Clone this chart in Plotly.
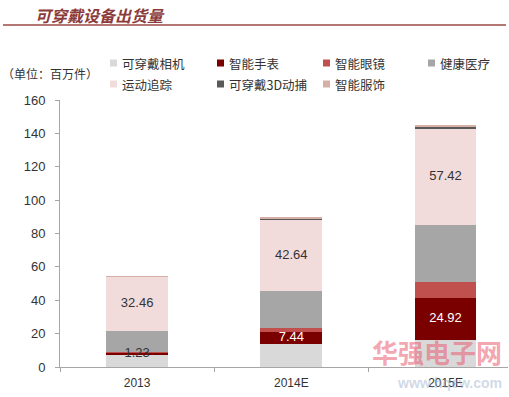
import plotly.graph_objects as go

categories = ["2013", "2014E", "2015E"]
series_names = ["可穿戴相机", "智能手表", "智能眼镜", "健康医疗", "运动追踪", "可穿戴3D动捕", "智能服饰"]
camera = [7.2, 13.8, 16.2]
watch = [1.23, 7.44, 24.92]
glasses = [0.3, 2.0, 10.0]
health = [12.8, 22.3, 34.0]
sport = [32.46, 42.64, 57.42]
capture3d = [0.2, 0.8, 1.5]
clothing = [0.1, 0.6, 1.0]
watch_labels = ["1.23", "7.44", "24.92"]
sport_labels = ["32.46", "42.64", "57.42"]
y_ticks = [0, 20, 40, 60, 80, 100, 120, 140, 160]

colors = ["#d9d9d9", "#7a0000", "#c0504d", "#a6a6a6", "#f2dcdb", "#595959", "#d6b0a6"]
values = [camera, watch, glasses, health, sport, capture3d, clothing]

FONT = "Liberation Sans, Arial, Noto Sans CJK SC, sans-serif"
CJK = "Noto Sans CJK SC, sans-serif"

fig = go.Figure()
for name, vals, col in zip(series_names, values, colors):
    fig.add_trace(go.Bar(x=categories, y=vals, name=name, marker=dict(color=col, line=dict(width=0)),
                         width=0.4, showlegend=False, hoverinfo="name+y"))

# value labels positioned at segment centres (computed from the data)
watch_mid = [c + w / 2 for c, w in zip(camera, watch)]
sport_base = [c + w + g + h for c, w, g, h in zip(camera, watch, glasses, health)]
sport_mid = [b + s / 2 for b, s in zip(sport_base, sport)]
fig.add_trace(go.Scatter(x=categories, y=watch_mid, mode="text", text=watch_labels, showlegend=False,
                         hoverinfo="skip",
                         textfont=dict(color=["#333333", "#ffffff", "#ffffff"], size=13, family=FONT)))
fig.add_trace(go.Scatter(x=categories, y=sport_mid, mode="text", text=sport_labels, showlegend=False,
                         hoverinfo="skip", textfont=dict(color="#333333", size=13, family=FONT)))

L, R, T, B = 60, 1, 100, 30
W, H = 509, 397
pw, ph = W - L - R, H - T - B

def px(X):
    return (X - L) / pw

def py(Y):
    return (H - B - Y) / ph

shapes = []
annotations = []

# title
annotations.append(dict(text="<i><b>可穿戴设备出货量</b></i>", x=px(33), y=py(15), xref="paper", yref="paper",
                        xanchor="left", yanchor="middle", showarrow=False,
                        font=dict(family=CJK, size=16, color="#8c3b3b")))
shapes.append(dict(type="line", xref="paper", yref="paper", x0=px(3), x1=px(506), y0=py(25), y1=py(25),
                   line=dict(color="#9b4a44", width=1.5)))

# unit text
annotations.append(dict(text="（单位：百万件）", x=px(0), y=py(73), xref="paper", yref="paper",
                        xanchor="left", yanchor="middle", showarrow=False,
                        font=dict(family=CJK, size=12, color="#333333")))

# legend
leg_x = [110, 217, 323, 428]
leg_y = [63, 84]
for i, (name, col) in enumerate(zip(series_names, colors)):
    r, c = divmod(i, 4)
    mx, my = leg_x[c], leg_y[r]
    shapes.append(dict(type="rect", xref="paper", yref="paper", x0=px(mx), x1=px(mx + 7),
                       y0=py(my + 3.5), y1=py(my - 3.5), fillcolor=col, line=dict(width=0)))
    annotations.append(dict(text=name, x=px(mx + 10), y=py(my), xref="paper", yref="paper",
                            xanchor="left", yanchor="middle", showarrow=False,
                            font=dict(family=CJK, size=12.5, color="#333333")))

# watermark
annotations.append(dict(text="<b>华强电子网</b>", x=px(504), y=py(351), xref="paper", yref="paper",
                        xanchor="right", yanchor="middle", showarrow=False,
                        font=dict(family=CJK, size=26, color="rgba(232,90,110,0.55)")))
annotations.append(dict(text="<b>www.hqew.com</b>", x=px(504), y=py(383), xref="paper", yref="paper",
                        xanchor="right", yanchor="middle", showarrow=False,
                        font=dict(family=FONT, size=14, color="rgba(150,170,200,0.45)")))

fig.update_layout(
    barmode="stack",
    width=W, height=H,
    margin=dict(l=L, r=R, t=T, b=B),
    paper_bgcolor="white", plot_bgcolor="white",
    font=dict(family=FONT, size=12, color="#333333"),
    shapes=shapes, annotations=annotations,
    xaxis=dict(range=[-0.5, 2.405], showgrid=False, showline=True, linecolor="#a6a6a6", linewidth=1,
               ticks="outside", tickson="boundaries", ticklen=4, tickcolor="#a6a6a6",
               ticklabelstandoff=5,
               tickfont=dict(size=12, color="#333333", family=FONT), fixedrange=True),
    yaxis=dict(range=[0, 160], tickvals=y_ticks, showgrid=False, showline=True, linecolor="#a6a6a6",
               linewidth=1, ticks="outside", ticklen=4, tickcolor="#a6a6a6", zeroline=False,
               ticklabelstandoff=7,
               tickfont=dict(size=13, color="#333333", family=FONT), fixedrange=True),
)

fig.write_html("out.html", config={"displayModeBar": False},
               post_script="document.body.style.margin='0';document.body.style.overflow='hidden';")
